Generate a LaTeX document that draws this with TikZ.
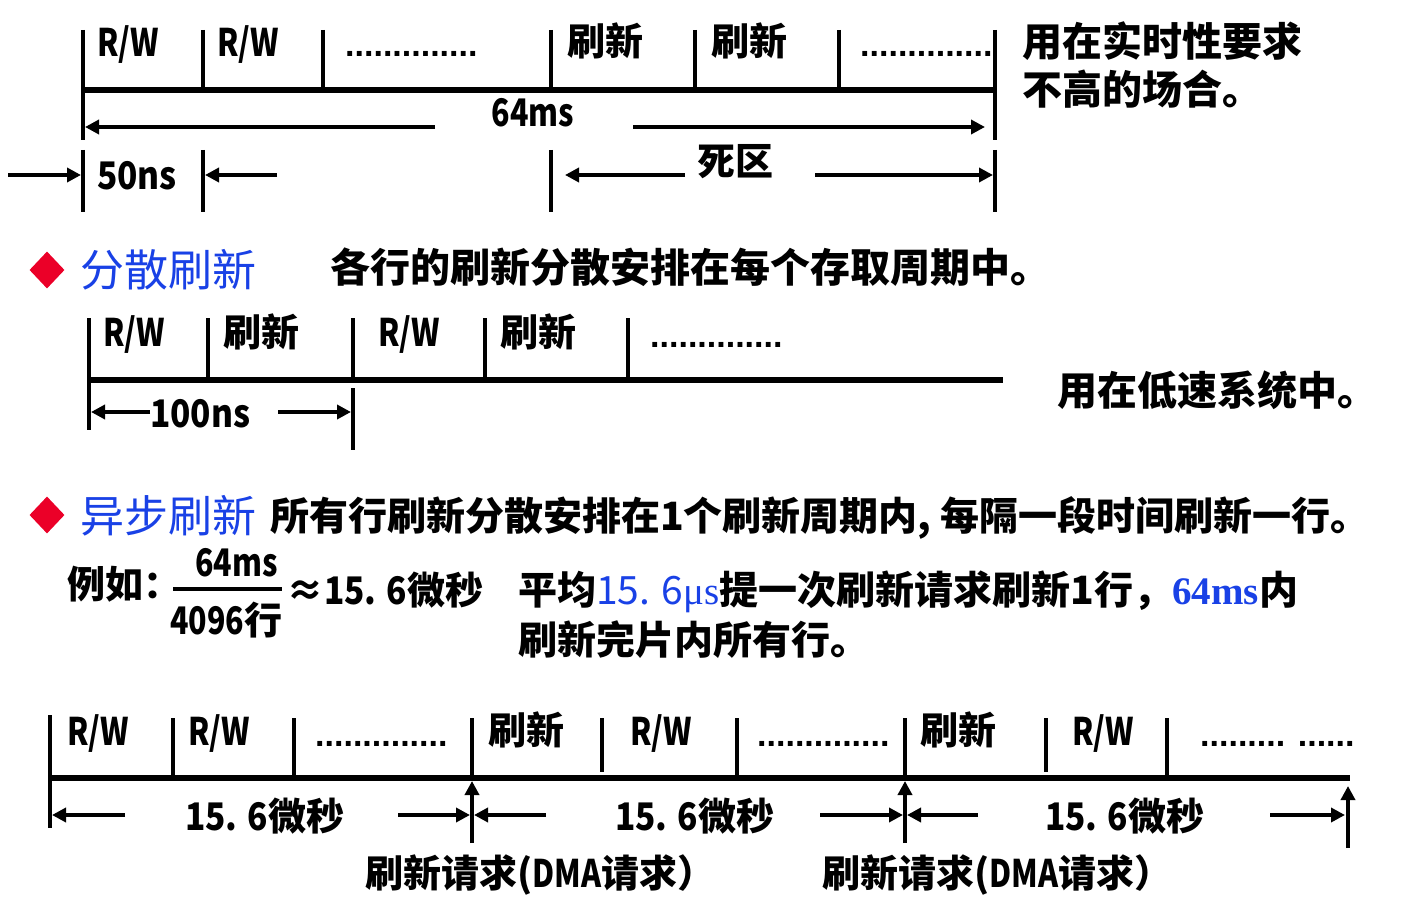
\documentclass[tikz,border=0pt]{standalone}
\usepackage{fontspec}
\newfontfamily\cjk{Noto Sans CJK SC}
\newfontfamily\dotf{Liberation Sans}
\newfontfamily\serif{Liberation Serif}
\usetikzlibrary{arrows.meta,shapes.geometric}
\definecolor{myblue}{RGB}{25,65,230}
\definecolor{myred}{RGB}{235,0,40}
\newcommand\nar[1]{\scalebox{0.8}[1]{#1}}
\newcommand\narb[1]{\scalebox{0.88}[1]{#1}}
\tikzset{
 axisln/.style={line width=6pt},
 tickln/.style={line width=4.5pt},
 arr/.style={line width=4.5pt,-{Triangle[length=14pt,width=14pt]}},
 lab/.style={anchor=base west,inner sep=0pt,font=\cjk\bfseries\fontsize{38}{40}\selectfont},
 desc/.style={anchor=base west,inner sep=0pt,font=\cjk\bfseries\fontsize{40}{42}\selectfont},
 dotsl/.style={anchor=base west,inner sep=0pt,font=\dotf\bfseries\fontsize{34}{36}\selectfont},
 ttl/.style={anchor=base west,inner sep=0pt,text=myblue,font=\cjk\fontsize{44}{46}\selectfont},
 bullet/.style={diamond,fill=myred,minimum width=35pt,minimum height=37pt,inner sep=0pt},
}
\begin{document}
\begin{tikzpicture}[x=1pt,y=-1pt]
\useasboundingbox (0,0) rectangle (1422,920);
% ===== Section 1 =====
\coordinate (A1l) at (83,90); \coordinate (A1r) at (995,90);
\draw[axisln] (A1l) -- (A1r);
\foreach \n/\x/\ya/\yb in {a/83/30/140,b/203/30/90,c/323/30/90,d/551/30/90,e/695/30/90,f/839/30/90,g/995/30/140,
  h/83/150/212,i/203/150/212,j/551/150/212,k/995/150/212}{
  \coordinate (T1\n a) at (\x,\ya); \coordinate (T1\n b) at (\x,\yb);
  \draw[tickln] (T1\n a) -- (T1\n b);
}
\node[lab] (rw1) at (97,57) {\nar{R/W}};
\node[lab] (rw2) at (217,57) {\nar{R/W}};
\node[dotsl] (d1) at (345,57) {..............};
\node[lab] (sx1) at (567,56) {刷新};
\node[lab] (sx2) at (711,56) {刷新};
\node[dotsl] (d2) at (860,57) {..............};
\node[lab,anchor=base] (t64) at (533,127) {\nar{64ms}};
\coordinate (p64a) at (435,127); \coordinate (p64b) at (85,127);
\coordinate (p64c) at (633,127); \coordinate (p64d) at (985,127);
\draw[arr] (p64a) -- (p64b);
\draw[arr] (p64c) -- (p64d);
\node[lab] (t50) at (97,190) {\narb{50ns}};
\coordinate (p50a) at (8,175); \coordinate (p50b) at (81,175);
\coordinate (p50c) at (277,175); \coordinate (p50d) at (205,175);
\draw[arr] (p50a) -- (p50b);
\draw[arr] (p50c) -- (p50d);
\node[lab] (dead) at (697,176) {死区};
\coordinate (pda) at (685,175); \coordinate (pdb) at (565,175);
\coordinate (pdc) at (815,175); \coordinate (pdd) at (993,175);
\draw[arr] (pda) -- (pdb);
\draw[arr] (pdc) -- (pdd);
\node[desc] (use1) at (1022,57) {用在实时性要求};
\node[desc] (use2) at (1022,105) {不高的场合。};
% ===== Section 2 =====
\node[bullet] (b1) at (47,270) {};
\node[ttl] (ti1) at (80,287) {分散刷新};
\node[desc] (de1) at (330,283) {各行的刷新分散安排在每个存取周期中。};
\coordinate (A2l) at (89,380); \coordinate (A2r) at (1003,380);
\draw[axisln] (A2l) -- (A2r);
\foreach \n/\x/\ya/\yb in {a/89/318/430,b/208/318/380,c/353/318/380,d/485/318/380,e/628/318/380,f/353/388/450}{
  \coordinate (T2\n a) at (\x,\ya); \coordinate (T2\n b) at (\x,\yb);
  \draw[tickln] (T2\n a) -- (T2\n b);
}
\node[lab] (rw3) at (103,346) {\nar{R/W}};
\node[lab] (sx3) at (223,346) {刷新};
\node[lab] (rw4) at (378,346) {\nar{R/W}};
\node[lab] (sx4) at (500,346) {刷新};
\node[dotsl] (d3) at (650,347) {..............};
\node[lab] (t100) at (150,427) {\narb{100ns}};
\coordinate (p1a) at (150,412); \coordinate (p1b) at (91,412);
\coordinate (p1c) at (278,412); \coordinate (p1d) at (351,412);
\draw[arr] (p1a) -- (p1b);
\draw[arr] (p1c) -- (p1d);
\node[desc] (use3) at (1057,405) {用在低速系统中。};
% ===== Section 3 =====
\node[bullet] (b2) at (47,515) {};
\node[ttl] (ti2) at (80,532) {异步刷新};
\node[lab,font=\cjk\bfseries\fontsize{39}{41}\selectfont] (de2) at (270,530) {所有行刷新分散安排在1个刷新周期内, 每隔一段时间刷新一行。};
\node[lab] (eg) at (67,598) {例如：};
\node[lab] (num) at (195,576) {\nar{64ms}};
\coordinate (fl) at (173,589); \coordinate (fr) at (282,589);
\draw[line width=4pt] (fl) -- (fr);
\node[lab] (den) at (170,634) {\nar{4096}行};
\node[lab] (approx) at (286,604) {≈\narb{15. 6}微秒};
\node[lab,font=\cjk\bfseries\fontsize{39}{41}\selectfont] (avg) at (518,604) {平均{\color{myblue}\mdseries 15. 6{\serif μs}}提一次刷新请求刷新1行，{\color{myblue}\serif\bfseries 64ms}内};
\node[lab,font=\cjk\bfseries\fontsize{39}{41}\selectfont] (avg2) at (518,654) {刷新完片内所有行。};
% ===== Section 4 =====
\coordinate (A4l) at (50,778); \coordinate (A4r) at (1350,778);
\draw[axisln] (A4l) -- (A4r);
\foreach \n/\x/\ya/\yb in {a/50/715/828,b/173/718/778,c/294/718/778,d/472/718/778,e/602/718/772,f/737/718/778,
  g/905/718/778,h/1046/718/772,i/1167/718/778}{
  \coordinate (T4\n a) at (\x,\ya); \coordinate (T4\n b) at (\x,\yb);
  \draw[tickln] (T4\n a) -- (T4\n b);
}
\node[lab] (rw5) at (67,745) {\nar{R/W}};
\node[lab] (rw6) at (188,745) {\nar{R/W}};
\node[dotsl] (d4) at (315,746) {..............};
\node[lab] (sx5) at (488,744) {刷新};
\node[lab] (rw7) at (630,745) {\nar{R/W}};
\node[dotsl] (d5) at (757,746) {..............};
\node[lab] (sx6) at (920,744) {刷新};
\node[lab] (rw8) at (1072,745) {\nar{R/W}};
\node[dotsl] (d6) at (1200,746) {......... ......};
\node[lab] (q1) at (185,830) {\narb{15. 6}微秒};
\node[lab] (q2) at (615,830) {\narb{15. 6}微秒};
\node[lab] (q3) at (1045,830) {\narb{15. 6}微秒};
\foreach \n/\xa/\xb in {a/125/52,b/398/470,c/546/474,d/820/903,e/978/907,f/1270/1345}{
  \coordinate (P4\n a) at (\xa,815); \coordinate (P4\n b) at (\xb,815);
  \draw[arr] (P4\n a) -- (P4\n b);
}
\coordinate (U1a) at (472,843); \coordinate (U1b) at (472,781);
\coordinate (U2a) at (905,843); \coordinate (U2b) at (905,781);
\coordinate (U3a) at (1348,848); \coordinate (U3b) at (1348,786);
\draw[arr] (U1a) -- (U1b);
\draw[arr] (U2a) -- (U2b);
\draw[arr] (U3a) -- (U3b);
\node[lab] (req1) at (365,887) {刷新请求(\nar{DMA}请求）};
\node[lab] (req2) at (822,887) {刷新请求(\nar{DMA}请求）};
\end{tikzpicture}
\end{document}
